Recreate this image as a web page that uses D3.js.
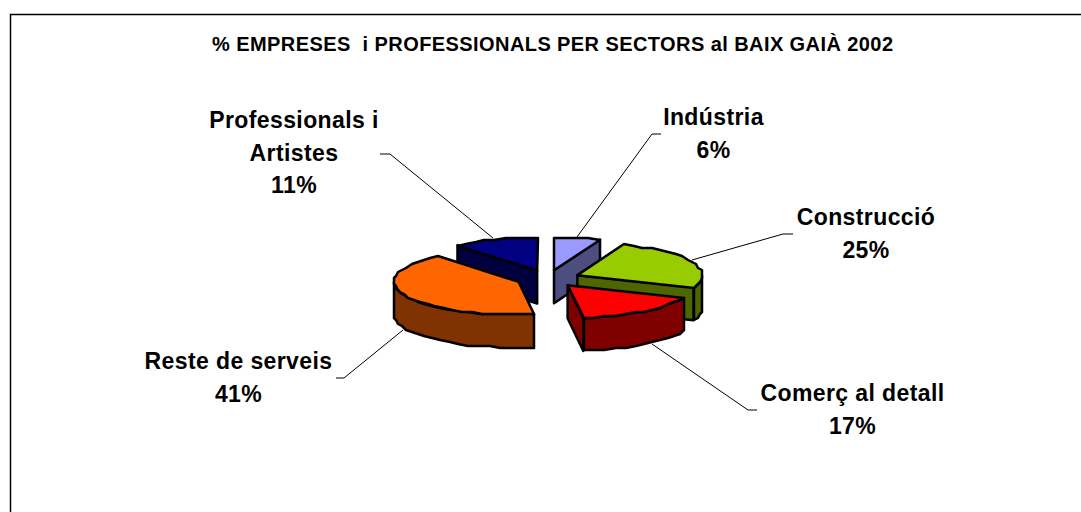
<!DOCTYPE html>
<html lang="en">
<head>
<meta charset="UTF-8">
<title>% EMPRESES i PROFESSIONALS PER SECTORS al BAIX GAIÀ 2002</title>
<script src="https://d3js.org/d3.v7.min.js"></script>
<style>
    body { margin: 0; background: #fff; }
    svg { display: block; }
    text { font-family: "Liberation Sans", Arial, sans-serif; font-weight: bold; fill: #000; white-space: pre; }
</style>
</head>
<body>
<div id="chart"></div>
<script>
const sectors = ["Indústria", "Construcció", "Comerç al detall", "Reste de serveis", "Professionals i Artistes"];
const shares = [6, 25, 17, 41, 11];
const topColors = ["#9999ff", "#99cc00", "#ff0000", "#ff6600", "#000080"];
const sideColors = ["#4d4d80", "#4d6600", "#800000", "#803300", "#000040"];
const titleText = "% EMPRESES  i PROFESSIONALS PER SECTORS al BAIX GAIÀ 2002";

const width = 1081, height = 512;
const cx = 548, cy = 278.5;
const rx = 125, ry = 33, depth = 33, explode = 32;

// label lines and leader polylines, same order as sectors
const labelLines = [["Indústria"], ["Construcció"], ["Comerç al detall"], ["Reste de serveis"], ["Professionals i", "Artistes"]];
const labelPos = [[713.5, 125], [866, 225], [852.5, 401], [238.5, 369], [294, 128]];
const leaders = [
    [[577, 237], [652, 134], [661, 134]],
    [[692, 260], [783, 234], [793, 234]],
    [[652, 344], [748, 410], [757, 410]],
    [[403, 330], [344, 378], [336, 378]],
    [[493, 238], [390, 154], [380, 154]]
];

const svg = d3.select("#chart").append("svg")
    .attr("width", width)
    .attr("height", height);

// frame: only top and left are in view
svg.append("path")
    .attr("d", `M10.5,${height}V14.5H${width}`)
    .attr("fill", "none")
    .attr("stroke", "#000")
    .attr("stroke-width", 1.5);

svg.append("text")
    .attr("x", 552.5)
    .attr("y", 51)
    .attr("text-anchor", "middle")
    .attr("font-size", 20)
    .attr("textLength", 681)
    .attr("lengthAdjust", "spacing")
    .text(titleText);

const arcs = d3.pie().sort(null).startAngle(0).endAngle(2 * Math.PI)(shares);
const line = d3.line();

function project(a, r, ox, oy, z) {
    return [cx + ox + r * rx * Math.sin(a), cy + oy - r * ry * Math.cos(a) + z];
}

// the source render has a wavy low-res rim, snap samples to a coarse grid
function snap(p) {
    return [Math.round(p[0] / 2) * 2, Math.round(p[1] / 2) * 2];
}

function rimAngles(a0, a1) {
    const n = Math.max(1, Math.round((a1 - a0) / (5 * Math.PI / 180)));
    return d3.range(n + 1).map(i => a0 + (a1 - a0) * i / n);
}

function slicePaths(d) {
    const mid = (d.startAngle + d.endAngle) / 2;
    const ox = explode * Math.sin(mid);
    const oy = -explode * (ry / rx) * Math.cos(mid);
    const apex = z => project(0, 0, ox, oy, z);
    const rim = (a, z) => project(a, 1, ox, oy, z);
    const walls = [];
    if (Math.sin(d.startAngle) < -1e-6) {
        walls.push([apex(0), rim(d.startAngle, 0), rim(d.startAngle, depth), apex(depth)]);
    }
    if (Math.sin(d.endAngle) > 1e-6) {
        walls.push([apex(0), rim(d.endAngle, 0), rim(d.endAngle, depth), apex(depth)]);
    }
    // outer wall only where the rim faces the viewer
    const f0 = Math.max(d.startAngle, Math.PI / 2);
    const f1 = Math.min(d.endAngle, 3 * Math.PI / 2);
    if (f1 > f0) {
        const as = rimAngles(f0, f1);
        walls.push(as.map(a => snap(rim(a, 0))).concat(as.slice().reverse().map(a => snap(rim(a, depth)))));
    }
    const top = [apex(0)].concat(rimAngles(d.startAngle, d.endAngle).map(a => snap(rim(a, 0))));
    return { walls, top };
}

// back to front
const drawOrder = [4, 0, 1, 3, 2];
const slices = svg.append("g")
    .attr("stroke", "#000")
    .attr("stroke-width", 2.5)
    .attr("stroke-linejoin", "round");

drawOrder.forEach(i => {
    const p = slicePaths(arcs[i]);
    const g = slices.append("g").attr("class", "slice");
    g.selectAll("path.wall").data(p.walls).enter().append("path")
        .attr("class", "wall")
        .attr("d", w => line(w) + "Z")
        .attr("fill", sideColors[i]);
    g.append("path")
        .attr("d", line(p.top) + "Z")
        .attr("fill", topColors[i]);
});

svg.append("g").selectAll("path").data(leaders).enter().append("path")
    .attr("d", d => line(d))
    .attr("fill", "none")
    .attr("stroke", "#000")
    .attr("stroke-width", 1);

// labels
sectors.forEach((s, i) => {
    const rows = labelLines[i].concat([shares[i] + "%"]);
    svg.append("g").selectAll("text").data(rows).enter().append("text")
        .attr("x", labelPos[i][0])
        .attr("y", (r, k) => labelPos[i][1] + k * 32.5)
        .attr("text-anchor", "middle")
        .attr("font-size", 23)
        .attr("letter-spacing", 0.4)
        .text(r => r);
});
</script>
</body>
</html>
